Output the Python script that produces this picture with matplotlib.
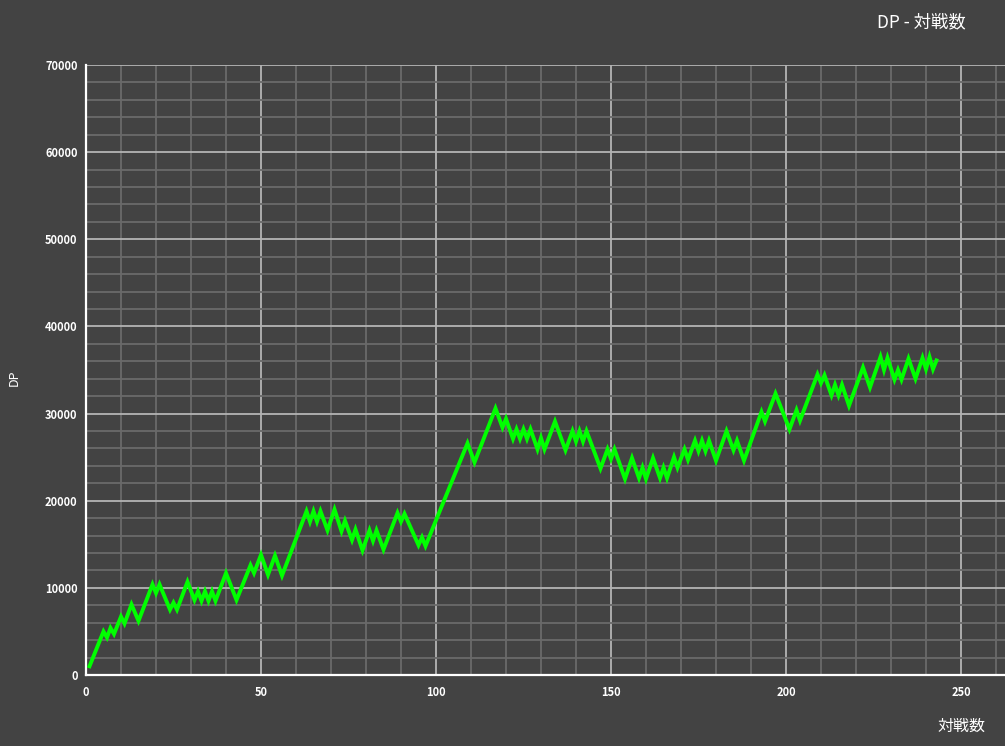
import matplotlib
matplotlib.use("Agg")
import matplotlib.pyplot as plt
from matplotlib.ticker import MultipleLocator

plt.rcParams['font.family'] = ['Noto Sans CJK JP', 'DejaVu Sans']

# turning points of the DP curve (game number, DP)
games = [1, 5, 6, 7, 8, 10, 11, 13, 15, 19, 20, 21, 24, 25, 26, 29, 31, 32, 33, 34,
         35, 36, 37, 40, 43, 47, 48, 50, 52, 54, 56, 63, 64, 65, 66, 67, 69, 71, 73, 74,
         76, 77, 79, 81, 82, 83, 85, 89, 90, 91, 95, 96, 97, 109, 111, 117, 119, 120, 122, 123,
         124, 125, 126, 127, 129, 130, 131, 134, 137, 139, 140, 141, 142, 143, 147, 149, 150, 151, 154, 156,
         158, 159, 160, 162, 164, 165, 166, 168, 169, 171, 172, 174, 175, 176, 177, 178, 180, 183, 185, 186,
         188, 193, 194, 197, 201, 203, 204, 209, 210, 211, 213, 214, 215, 216, 218, 222, 224, 227, 228, 229,
         231, 232, 233, 235, 237, 239, 240, 241, 242, 243]
dp = [1000, 5000, 4300, 5400, 4700, 6700, 5900, 8100, 6200, 10400, 9400, 10400, 7500, 8300, 7500, 10700, 8600, 9600, 8500, 9600,
      8500, 9600, 8500, 11700, 8600, 12600, 11700, 13800, 11500, 13700, 11400, 18800, 17600, 18800, 17600, 18800, 16600, 19000, 16500, 17700,
      15500, 16700, 14300, 16600, 15400, 16600, 14400, 18600, 17600, 18500, 14900, 15800, 14800, 26600, 24400, 30600, 28400, 29400, 27100, 28200,
      27100, 28200, 27100, 28200, 25900, 27200, 25900, 29100, 25800, 28000, 26800, 28000, 26800, 28000, 23700, 25900, 24800, 25900, 22500, 24900,
      22600, 23800, 22500, 24900, 22600, 23800, 22600, 25000, 23800, 25900, 24700, 26900, 25700, 26900, 25700, 26900, 24600, 28000, 25800, 26900,
      24600, 30200, 29100, 32300, 28200, 30400, 29200, 34500, 33500, 34400, 32100, 33300, 32100, 33300, 30900, 35300, 33000, 36500, 35000, 36400,
      33900, 35000, 33900, 36300, 34000, 36400, 35100, 36500, 35100, 36100]

bg = '#434343'
fig = plt.figure(figsize=(10.05, 7.46), dpi=100, facecolor=bg)
ax = fig.add_axes([86 / 1005, 1 - 675 / 746, 1 - 86 / 1005, 610 / 746])
ax.set_facecolor(bg)

ax.set_xlim(0, (1005 - 86) / 3.5)
ax.set_ylim(0, 70000)
ax.xaxis.set_major_locator(MultipleLocator(50))
ax.xaxis.set_minor_locator(MultipleLocator(10))
ax.yaxis.set_major_locator(MultipleLocator(10000))
ax.yaxis.set_minor_locator(MultipleLocator(2000))
ax.grid(which='minor', color='#6a6a6a', linewidth=1.3)
ax.grid(which='major', color='#b4b4b4', linewidth=1.3)
ax.set_axisbelow(True)

ax.plot(games, dp, color='#00ff00', linewidth=2.8, solid_joinstyle='miter', zorder=3)

for side in ['top', 'right']:
    ax.spines[side].set_visible(False)
for side in ['left', 'bottom']:
    ax.spines[side].set_color('white')
    ax.spines[side].set_linewidth(1.6)

ax.tick_params(which='both', length=0, colors='white', labelsize=8)
ax.tick_params(axis='y', pad=6)
ax.tick_params(axis='x', pad=8)
for lbl in ax.get_xticklabels() + ax.get_yticklabels():
    lbl.set_fontweight('bold')

fig.text(0.917, 0.970, 'DP - 対戦数', color='white', fontsize=12.5, ha='center', va='center')
fig.text(0.957, 0.027, '対戦数', color='white', fontsize=11.5, ha='center', va='center')
fig.text(0.014, 0.493, 'DP', color='white', fontsize=9, rotation=90, ha='center', va='center')

fig.savefig('out.png', dpi=100, facecolor=bg)
